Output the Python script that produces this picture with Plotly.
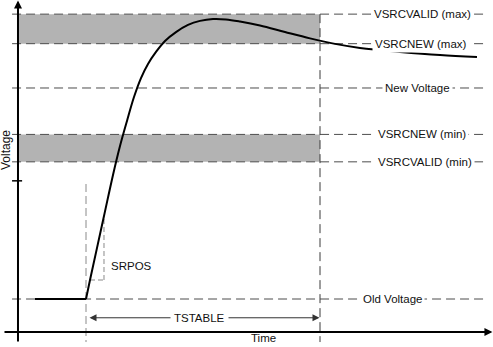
import plotly.graph_objects as go

# Voltage levels (normalised: old voltage = 0, new voltage = 1)
level_names = ["VSRCVALID (max)", "VSRCNEW (max)", "New Voltage",
               "VSRCNEW (min)", "VSRCVALID (min)", "Old Voltage"]
level_values = [1.35, 1.21, 1.00, 0.78, 0.65, 0.00]
extra_tick = 0.56

# Time markers (arbitrary units)
t_step = 0.0
t_stable = 10.0

# Source output: flat at the old voltage, then the transition
hold_t = [-2.18, 0.0]
hold_v = [0.0, 0.0]
rise_t = [0.0, 0.171, 0.769, 1.154, 1.453, 1.752, 2.051, 2.350, 2.650, 2.991,
          3.376, 3.846, 4.359, 4.872, 5.427, 5.983, 6.581, 7.436, 8.504, 9.573,
          10.641, 11.709, 13.419, 15.128, 16.709]
rise_v = [0.0, 0.090, 0.393, 0.588, 0.725, 0.844, 0.957, 1.047, 1.114, 1.171,
          1.223, 1.265, 1.299, 1.318, 1.327, 1.325, 1.315, 1.296, 1.265, 1.235,
          1.209, 1.190, 1.171, 1.156, 1.147]

# Slew-rate (SRPOS) measurement points on the rising edge
srpos_t = [0.171, 0.769]
srpos_v = [0.090, 0.390]

# ---- layout constants (data units) ----
X_RANGE = [-3.675, 17.393]
Y_RANGE = [-0.2275, 1.417]
T_AXIS = -2.906          # where the voltage axis sits
V_AXIS = -0.156          # where the time axis sits
LINE_START, LINE_END = -3.16, 16.97
GUIDE_BOTTOM = -0.204
STEP_GUIDE_TOP = 0.545
V_TSTABLE = -0.089
label_x = [14.40, 14.32, 14.15, 14.36, 14.49, 13.08]

FONT = "Liberation Sans, Arial, sans-serif"
DASH = "9px,5px"

fig = go.Figure()

# gray tolerance bands
fig.add_shape(type="rect", x0=T_AXIS, x1=t_stable, y0=level_values[1], y1=level_values[0],
              fillcolor="#b3b3b3", line_width=0, layer="below")
fig.add_shape(type="rect", x0=T_AXIS, x1=t_stable, y0=level_values[4], y1=level_values[3],
              fillcolor="#b3b3b3", line_width=0, layer="below")

# dashed level lines
for v in level_values:
    fig.add_shape(type="line", x0=LINE_START, x1=LINE_END, y0=v, y1=v,
                  line=dict(color="#4d4d4d", width=1, dash=DASH), layer="below")

# unlabeled tick on the voltage axis
fig.add_shape(type="line", x0=LINE_START, x1=LINE_START + 0.43, y0=extra_tick, y1=extra_tick,
              line=dict(color="black", width=1.5))

# vertical guides at the step and at TSTABLE
fig.add_shape(type="line", x0=t_step, x1=t_step, y0=STEP_GUIDE_TOP, y1=GUIDE_BOTTOM,
              line=dict(color="#8a8a8a", width=1, dash="8px,4px"), layer="below")
fig.add_shape(type="line", x0=t_stable, x1=t_stable, y0=level_values[0], y1=GUIDE_BOTTOM,
              line=dict(color="#3a3a3a", width=1, dash=DASH), layer="below")

# slew-rate triangle on the rising edge
fig.add_shape(type="line", x0=srpos_t[0], x1=srpos_t[1], y0=srpos_v[0], y1=srpos_v[0],
              line=dict(color="#8a8a8a", width=1, dash="5px,3px"), layer="below")
fig.add_shape(type="line", x0=srpos_t[1], x1=srpos_t[1], y0=srpos_v[0], y1=srpos_v[1],
              line=dict(color="#8a8a8a", width=1, dash="5px,3px"), layer="below")

# waveform
fig.add_trace(go.Scatter(x=hold_t, y=hold_v, mode="lines",
                         line=dict(color="black", width=2), hoverinfo="skip"))
fig.add_trace(go.Scatter(x=rise_t, y=rise_v, mode="lines",
                         line=dict(color="black", width=2, shape="spline", smoothing=1.0),
                         hoverinfo="skip"))

annotations = []

# axes with arrowheads
annotations.append(dict(x=T_AXIS, y=Y_RANGE[1] - 0.002, ax=T_AXIS, ay=GUIDE_BOTTOM - 0.005,
                        xref="x", yref="y", axref="x", ayref="y", text="", showarrow=True,
                        arrowhead=2, arrowsize=0.8, arrowwidth=2, arrowcolor="black"))
annotations.append(dict(x=17.37, y=V_AXIS, ax=-3.547, ay=V_AXIS,
                        xref="x", yref="y", axref="x", ayref="y", text="", showarrow=True,
                        arrowhead=2, arrowsize=0.8, arrowwidth=2, arrowcolor="black"))

# TSTABLE span arrow
annotations.append(dict(x=t_stable - 0.02, y=V_TSTABLE, ax=t_step + 0.085, ay=V_TSTABLE,
                        xref="x", yref="y", axref="x", ayref="y", text="", showarrow=True,
                        arrowside="end+start", arrowhead=2, startarrowhead=2,
                        arrowsize=1.4, startarrowsize=1.4, arrowwidth=1, arrowcolor="#333333"))
annotations.append(dict(x=4.85, y=V_TSTABLE, text="TSTABLE", showarrow=False,
                        bgcolor="white", borderpad=3,
                        font=dict(family=FONT, size=11.5, color="#111111")))

# level labels
for name, v, lx in zip(level_names, level_values, label_x):
    annotations.append(dict(x=lx, y=v, text=name, showarrow=False,
                            bgcolor="white", borderpad=2,
                            font=dict(family=FONT, size=11.5, color="#111111")))

annotations.append(dict(x=0.98, y=0.158, text="SRPOS", showarrow=False, xanchor="left",
                        font=dict(family=FONT, size=11.5, color="#111111")))
annotations.append(dict(x=7.585, y=-0.187, text="Time", showarrow=False,
                        font=dict(family=FONT, size=11.5, color="#111111")))
annotations.append(dict(x=-3.42, y=0.706, text="Voltage", showarrow=False, textangle=-90,
                        font=dict(family=FONT, size=12, color="#111111")))

fig.update_layout(
    width=493, height=347,
    margin=dict(l=0, r=0, t=0, b=0, pad=0),
    paper_bgcolor="white", plot_bgcolor="white",
    showlegend=False,
    xaxis=dict(range=X_RANGE, visible=False, fixedrange=True),
    yaxis=dict(range=Y_RANGE, visible=False, fixedrange=True),
    annotations=annotations,
)

fig.write_html("out.html")
